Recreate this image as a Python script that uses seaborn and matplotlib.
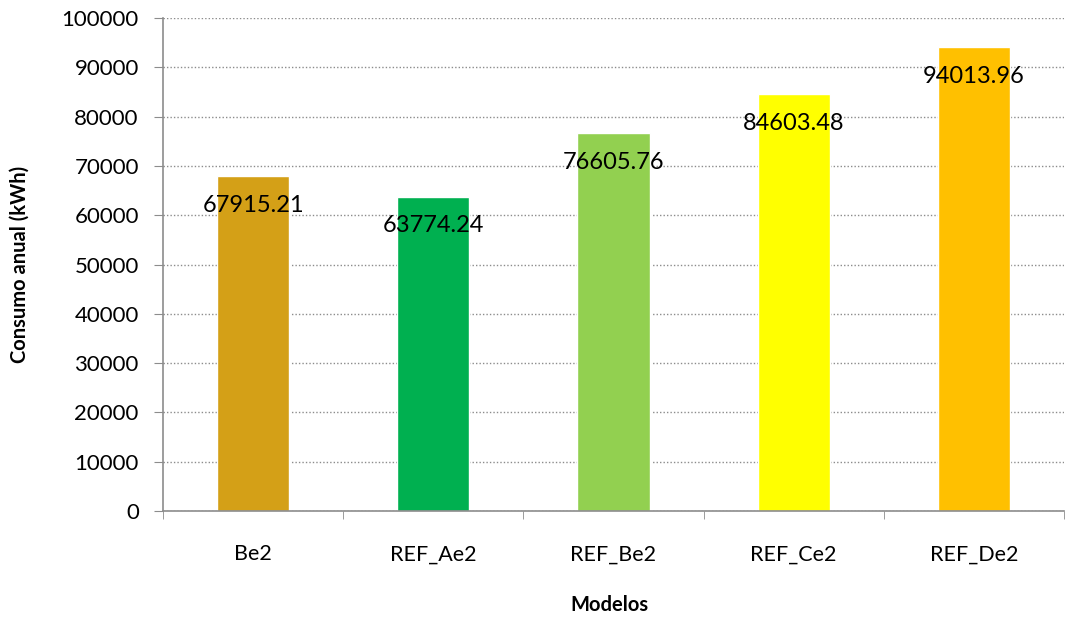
import matplotlib
matplotlib.use("Agg")
import matplotlib.pyplot as plt
import seaborn as sns
import pandas as pd
import numpy as np

modelos = ["Be2", "REF_Ae2", "REF_Be2", "REF_Ce2", "REF_De2"]
consumo = [67915.21, 63774.24, 76605.76, 84603.48, 94013.96]
colores = ["#D4A017", "#00B050", "#92D050", "#FFFF00", "#FFC000"]
y_ticks = [0, 10000, 20000, 30000, 40000, 50000, 60000, 70000, 80000, 90000, 100000]

sns.set_style("white")
plt.rcParams['font.family'] = ['Lato', 'DejaVu Sans']
plt.rcParams['text.color'] = 'black'
plt.rcParams['axes.labelcolor'] = 'black'
plt.rcParams['xtick.labelcolor'] = 'black'
plt.rcParams['ytick.labelcolor'] = 'black'

df = pd.DataFrame({"modelo": modelos, "consumo": consumo})

fig = plt.figure(figsize=(10.66, 6.18), dpi=100)
ax = fig.add_axes([0.153, 0.173, 0.845, 0.798])

sns.barplot(data=df, x="modelo", y="consumo", hue="modelo", palette=colores,
            width=0.4, legend=False, ax=ax, saturation=1)

ax.set_ylim(0, 100000)
ax.set_xlim(-0.5, len(modelos) - 0.5)
ax.set_yticks(y_ticks)
ax.set_yticklabels([str(t) for t in y_ticks], fontsize=16)
ax.yaxis.grid(True, linestyle=(0, (1, 1.5)), color="#8c8c8c", linewidth=1)
ax.set_axisbelow(True)

# marcas en los límites de categoría, etiquetas centradas
ax.set_xticks(np.arange(len(modelos)))
ax.set_xticklabels(modelos, fontsize=15.5)
ax.set_xticks(np.arange(len(modelos) + 1) - 0.5, minor=True)
ax.tick_params(axis="x", which="major", length=0, pad=24, labelcolor="black")
ax.tick_params(axis="x", which="minor", length=6, color="#8c8c8c", direction="out", bottom=True)
ax.tick_params(axis="y", length=6.5, color="#8c8c8c", direction="out", left=True, pad=11,
               labelcolor="black")

for s in ["top", "right"]:
    ax.spines[s].set_visible(False)
for s in ["left", "bottom"]:
    ax.spines[s].set_color("#8c8c8c")
    ax.spines[s].set_linewidth(1.2)

for i, v in enumerate(consumo):
    ax.annotate(f"{v:.2f}", (i, v), xytext=(0, -21), textcoords="offset points",
                ha="center", va="center", fontsize=17, color="black")

ax.set_xlabel("Modelos", fontsize=14.5, fontweight="bold", color="black")
ax.set_ylabel("Consumo anual (kWh)", fontsize=14.5, fontweight="bold", color="black")
ax.xaxis.set_label_coords(0.496, -0.19)
ax.xaxis.label.set_va("center")
ax.yaxis.set_label_coords(-0.159, 0.5)
ax.yaxis.label.set_va("center")

fig.savefig("out.png", dpi=100)
